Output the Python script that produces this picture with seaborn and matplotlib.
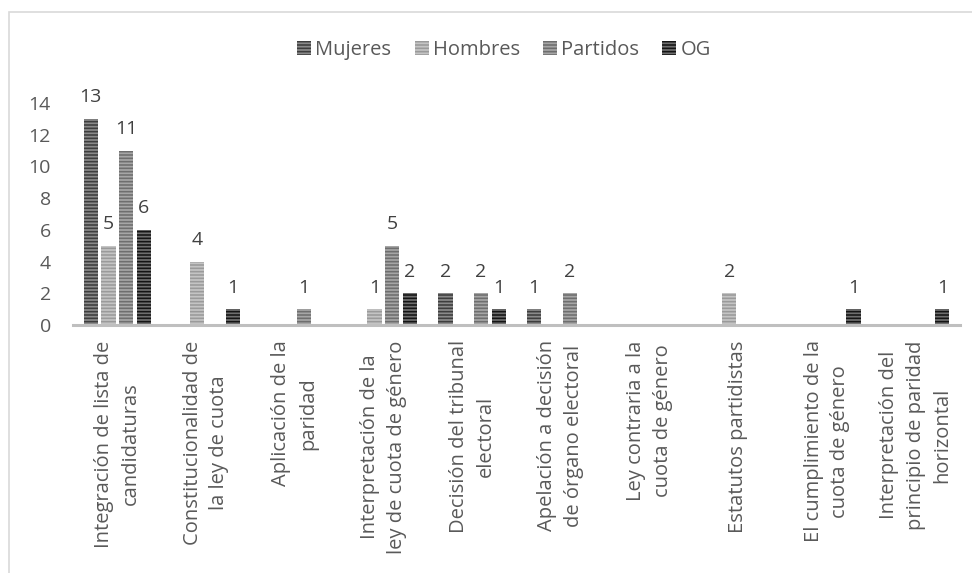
import matplotlib
matplotlib.use("Agg")
import matplotlib.pyplot as plt
from matplotlib.patches import Rectangle
import pandas as pd
import seaborn as sns

categorias = [
    "Integración de lista de\ncandidaturas",
    "Constitucionalidad de\nla ley de cuota",
    "Aplicación de la\nparidad",
    "Interpretación de la\nley de cuota de género",
    "Decisión del tribunal\nelectoral",
    "Apelación a decisión\nde órgano electoral",
    "Ley contraria a la\ncuota de género",
    "Estatutos partidistas",
    "El cumplimiento de la\ncuota de género",
    "Interpretación del\nprincipio de paridad\nhorizontal",
]
series = ["Mujeres", "Hombres", "Partidos", "OG"]
mujeres = [13, 0, 0, 0, 2, 1, 0, 0, 0, 0]
hombres = [5, 4, 0, 1, 0, 0, 0, 2, 0, 0]
partidos = [11, 0, 1, 5, 2, 2, 0, 0, 0, 0]
og = [6, 1, 0, 2, 1, 0, 0, 0, 1, 1]
yticks = [0, 2, 4, 6, 8, 10, 12, 14]

# fill colour and stripe colour for each series
relleno = {"Mujeres": "#8a8a8a", "Hombres": "#c4c4c4", "Partidos": "#a6a6a6", "OG": "#6e6e6e"}
rayas = {"Mujeres": "#3d3d3d", "Hombres": "#9a9a9a", "Partidos": "#6e6e6e", "OG": "#141414"}

valores = {"Mujeres": mujeres, "Hombres": hombres, "Partidos": partidos, "OG": og}
df = pd.DataFrame(
    [(c, s, v) for s in series for c, v in zip(categorias, valores[s])],
    columns=["categoria", "serie", "valor"],
)

sns.set_theme(style="white")
plt.rcParams["font.family"] = ["Open Sans", "DejaVu Sans"]
plt.rcParams["hatch.linewidth"] = 1.15

texto = "#595959"
fig = plt.figure(figsize=(9.72, 5.73), dpi=100)
ax = fig.add_axes([73 / 972, 1 - 325 / 573, 887 / 972, 222 / 573])

sns.barplot(
    data=df, x="categoria", y="valor", hue="serie",
    order=categorias, hue_order=series, palette=relleno,
    width=0.8, gap=0.2, errorbar=None, legend=False, ax=ax,
)

for cont, s in zip(ax.containers, series):
    for p in cont:
        p.set_facecolor(relleno[s])
        p.set_edgecolor(rayas[s])
        p.set_hatch("-----")
        p.set_linewidth(0)
    ax.bar_label(cont, labels=[str(v) if v else "" for v in valores[s]],
                 padding=9, fontsize=14, color="#404040")

ax.set_ylim(0, 14)
ax.set_xlim(-0.5, len(categorias) - 0.5)
ax.set_yticks(yticks)
ax.set_xlabel("")
ax.set_ylabel("")
for side in ["left", "right", "top"]:
    ax.spines[side].set_visible(False)
ax.spines["bottom"].set_color("#bfbfbf")
ax.spines["bottom"].set_linewidth(2.2)
ax.tick_params(axis="y", length=0, pad=16, labelsize=14, labelcolor=texto)
ax.tick_params(axis="x", length=0, pad=11, labelsize=14.5, labelcolor=texto)
ax.set_xticks(range(len(categorias)))
ax.set_xticklabels(categorias, rotation=90, ha="center", va="top",
                   multialignment="center", linespacing=1.45)

handles = [cont[0] for cont in ax.containers]
fig.legend(handles, series, loc="center", bbox_to_anchor=(504 / 972, 1 - 50 / 573),
           ncol=4, frameon=False, fontsize=14.5, labelcolor=texto,
           handlelength=0.7, handleheight=0.7, handletextpad=0.2,
           columnspacing=1.15)

fig.add_artist(Rectangle((9 / 972, -0.1), 1.2, 1.1 - 12 / 573, transform=fig.transFigure,
                         fill=False, edgecolor="#d9d9d9", linewidth=1.2))

fig.savefig("out.png", dpi=100, facecolor="white")
